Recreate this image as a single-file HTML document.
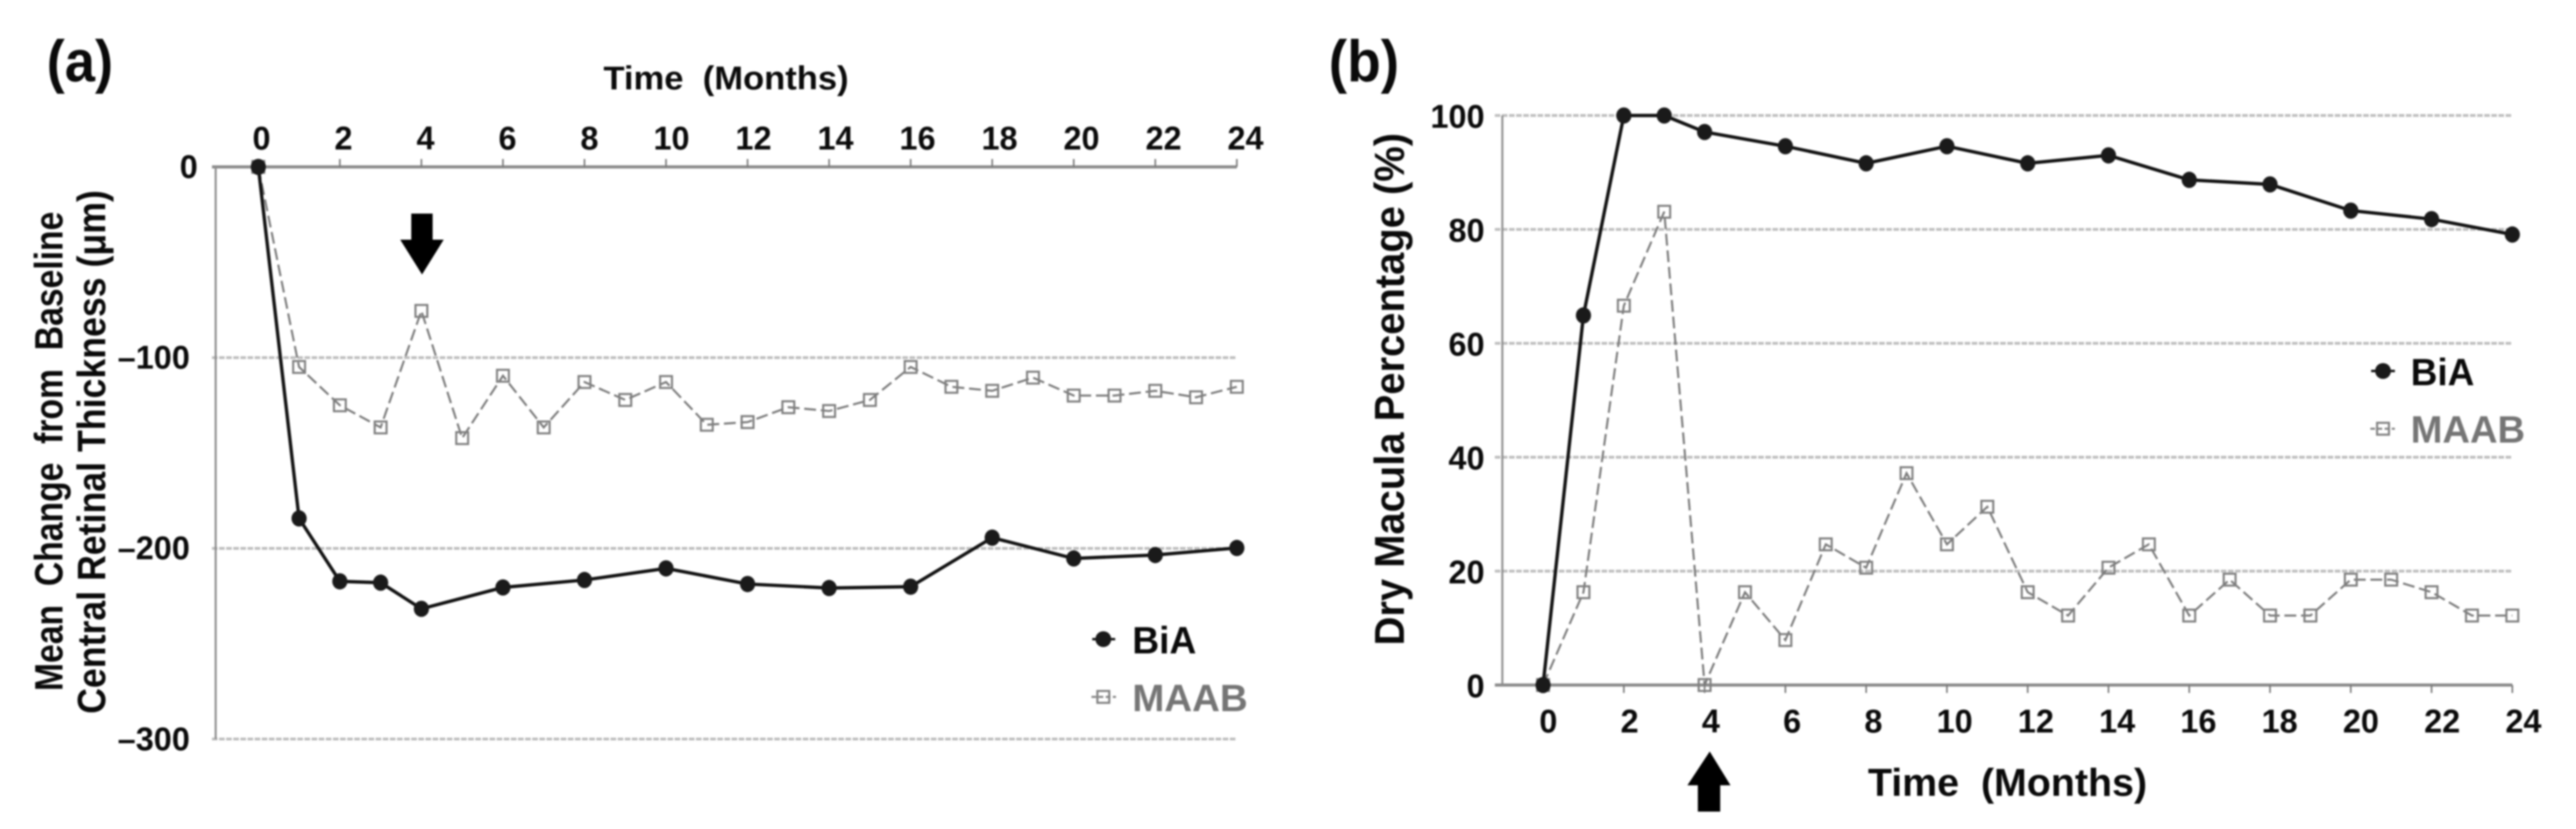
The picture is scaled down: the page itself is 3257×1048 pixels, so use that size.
<!DOCTYPE html>
<html lang="en">
<head>
<meta charset="utf-8">
<title>Mean retinal thickness change and dry macula percentage over time</title>
<style>
  html, body { margin: 0; padding: 0; background: #fff; }
  #figure { display: block; width: 3257px; height: 1048px; filter: blur(1px); }
  text { font-family: "Liberation Sans", "DejaVu Sans", sans-serif; font-weight: bold; fill: #0a0a0a; white-space: pre; }
</style>
</head>
<body>
<svg id="figure" xmlns="http://www.w3.org/2000/svg" width="3257" height="1048" viewBox="0 0 3257 1048">
  <rect x="0" y="0" width="3257" height="1048" fill="#fff"/>

  <g id="panel-a">
    <text x="59" y="103" font-size="74" textLength="84" lengthAdjust="spacingAndGlyphs">(a)</text>
    <text x="763" y="113" font-size="42" textLength="310" lengthAdjust="spacingAndGlyphs">Time  (Months)</text>
    <text transform="translate(79 873.6) rotate(-90)" font-size="50" textLength="606" lengthAdjust="spacingAndGlyphs">Mean  Change  from  Baseline</text>
    <text transform="translate(133 902.4) rotate(-90)" font-size="50" textLength="662" lengthAdjust="spacingAndGlyphs">Central Retinal Thickness (μm)</text>
    <polygon points="520,270 547,270 547,303 561,303 533.6,347 506,303 520,303" fill="#000"/>
    <g>
      <line x1="1381" y1="808" x2="1410" y2="808" stroke="#111" stroke-width="3"/>
      <ellipse cx="1395" cy="808" rx="10" ry="10" fill="#1a1a1a"/>
      <text x="1431.6" y="826" font-size="48" textLength="81" lengthAdjust="spacingAndGlyphs">BiA</text>
      <line x1="1380" y1="881" x2="1411" y2="881" stroke="#808080" stroke-width="2.5" stroke-dasharray="6 3"/>
      <rect x="1387.5" y="873.5" width="15" height="15" fill="none" stroke="#808080" stroke-width="2.6"/>
      <text x="1431.6" y="899" font-size="48" textLength="146" lengthAdjust="spacingAndGlyphs" style="fill:#757575">MAAB</text>
    </g>
  </g>

  <g id="panel-b">
    <text x="1680" y="103" font-size="74" textLength="89" lengthAdjust="spacingAndGlyphs">(b)</text>
    <text x="2361.7" y="1006" font-size="49" textLength="353" lengthAdjust="spacingAndGlyphs">Time  (Months)</text>
    <text transform="translate(1775 816) rotate(-90)" font-size="53" textLength="648" lengthAdjust="spacingAndGlyphs">Dry Macula Percentage (%)</text>
    <polygon points="2161.7,950 2188,992.7 2175,992.7 2175,1026 2146.7,1026 2146.7,992.7 2133.5,992.7" fill="#000"/>
    <g>
      <line x1="2998" y1="469" x2="3028" y2="469" stroke="#111" stroke-width="3"/>
      <ellipse cx="3013" cy="469" rx="10" ry="10" fill="#1a1a1a"/>
      <text x="3048" y="487" font-size="48" textLength="80.5" lengthAdjust="spacingAndGlyphs">BiA</text>
      <line x1="2997" y1="542" x2="3028" y2="542" stroke="#808080" stroke-width="2.5" stroke-dasharray="6 3"/>
      <rect x="3005.5" y="534.5" width="15" height="15" fill="none" stroke="#808080" stroke-width="2.6"/>
      <text x="3048" y="559.5" font-size="48" textLength="144.6" lengthAdjust="spacingAndGlyphs" style="fill:#757575">MAAB</text>
    </g>
  </g>
</svg>

<script>
// Shared month categories
const xTickLabels = [0, 2, 4, 6, 8, 10, 12, 14, 16, 18, 20, 22, 24];
const biaMonths = [0, 1, 2, 3, 4, 6, 8, 10, 12, 14, 16, 18, 20, 22, 24];
const maabMonths = [0, 1, 2, 3, 4, 5, 6, 7, 8, 9, 10, 11, 12, 13, 14, 15, 16, 17, 18, 19, 20, 21, 22, 23, 24];

// Panel (a): mean change from baseline central retinal thickness (um)
const panelAYTicks = [0, -100, -200, -300];
const panelABia = [0, -184.3, -217.3, -218, -231.7, -220.5, -216.6, -210.5, -218.7, -220.8, -220.1, -194.4, -205.3, -203.5, -199.8];
const panelAMaab = [0, -104.9, -125, -136.6, -75.5, -142.2, -109.5, -136.6, -112.8, -122.2, -112.8, -135.2, -133.8, -126, -128, -122.2, -104.9, -115.3, -117.4, -110.5, -119.9, -119.9, -117.4, -120.8, -115.3];

// Panel (b): dry macula percentage (%)
const panelBYTicks = [100, 80, 60, 40, 20, 0];
const panelBBia = [0, 64.9, 100, 100, 97.1, 94.6, 91.6, 94.6, 91.6, 93, 88.7, 87.9, 83.3, 81.8, 79.1];
const panelBMaab = [0, 16.3, 66.6, 83.1, 0, 16.3, 7.9, 24.7, 20.6, 37.2, 24.7, 31.3, 16.3, 12.2, 20.6, 24.7, 12.2, 18.5, 12.2, 12.2, 18.5, 18.5, 16.3, 12.2, 12.2];

const SVG_NS = 'http://www.w3.org/2000/svg';

function add(parent, tag, attrs, text) {
  const node = document.createElementNS(SVG_NS, tag);
  Object.keys(attrs).forEach(function (k) { node.setAttribute(k, attrs[k]); });
  if (text !== undefined) node.textContent = text;
  parent.appendChild(node);
  return node;
}

function linear(d0, d1, r0, r1) {
  return function (v) { return r0 + (v - d0) / (d1 - d0) * (r1 - r0); };
}

function drawPanel(p) {
  const root = document.getElementById(p.id);
  const xScale = linear(0, 24, p.x0, p.x24);
  const yScale = linear(p.domainA, p.domainB, p.yA, p.yB);
  const xLabelScale = linear(0, 24, p.x0 + p.labelOffset0, p.x24 + p.labelOffset24);

  // Gridlines and y tick labels
  p.yTicks.forEach(function (v) {
    const y = yScale(v);
    if (v !== p.baseline) {
      const grid = add(root, 'line', { x1: p.gridLeft, y1: y, x2: p.x24, y2: y, stroke: '#bdbdbd', 'stroke-width': 3.5, 'stroke-dasharray': '7 2' });
      
      
    }
    const s = String(v).replace('-', '\u2013');
    const label = add(root, 'text', {
      x: p.yLabelEnd(v), y: y + p.yLabelDrop, 'font-size': 42, 'text-anchor': 'end',
      textLength: s.length * 22.8, lengthAdjust: 'spacingAndGlyphs'
    }, s);
    
    
  });

  // Axis lines
  const yBase = yScale(p.baseline);
  const xAxis = add(root, 'line', { x1: p.gridLeft, y1: yBase, x2: p.x24, y2: yBase, stroke: '#8c8c8c', 'stroke-width': 4 });
  
  
  const yAxis = add(root, 'line', { x1: p.yAxisX, y1: yScale(p.yAxisFrom), x2: p.yAxisX, y2: yScale(p.yAxisTo), stroke: '#8c8c8c', 'stroke-width': 2.5 });
  
  

  // X ticks and labels
  xTickLabels.forEach(function (v) {
    const x = xScale(v);
    const tick = add(root, 'line', { x1: x, y1: yBase, x2: x, y2: yBase + p.tickLength, stroke: '#777', 'stroke-width': 2 });
    
    
    const s = String(v);
    const label = add(root, 'text', {
      x: xLabelScale(v), y: p.xLabelBaseline, 'font-size': 42, 'text-anchor': 'middle',
      textLength: s.length * 22.8, lengthAdjust: 'spacingAndGlyphs'
    }, s);
    
    
  });

  // MAAB series
  const maabPts = maabMonths.map(function (m, i) { return xScale(m) + ',' + yScale(p.maab[i]); }).join(' ');
  const maabLine = add(root, 'polyline', { points: maabPts, fill: 'none', stroke: '#7a7a7a', 'stroke-width': 2.6, 'stroke-dasharray': '15 6' });
  
  
  maabMonths.forEach(function (m, i) {
    const mark = add(root, 'rect', { x: xScale(m) - 7.5, y: yScale(p.maab[i]) - 7.5, width: 15, height: 15, fill: 'none', stroke: '#7f7f7f', 'stroke-width': 2.6 });
    
    
  });

  // BiA series
  const biaPts = biaMonths.map(function (m, i) { return xScale(m) + ',' + yScale(p.bia[i]); }).join(' ');
  const biaLine = add(root, 'polyline', { points: biaPts, fill: 'none', stroke: '#111', 'stroke-width': 4.2 });
  
  
  biaMonths.forEach(function (m, i) {
    const mark = add(root, 'ellipse', { cx: xScale(m), cy: yScale(p.bia[i]), rx: 9.6, ry: 10.3, fill: '#1a1a1a' });
    
    
  });
}

drawPanel({
  id: 'panel-a', x0: 326.6, x24: 1563.8, domainA: 0, domainB: -300, yA: 211, yB: 934.3,
  baseline: 0, yTicks: panelAYTicks, gridLeft: 268, yAxisX: 272.7, yAxisFrom: 0, yAxisTo: -300,
  tickLength: -10, xLabelBaseline: 189, labelOffset0: 4, labelOffset24: 11, yLabelDrop: 14,
  yLabelEnd: function (v) { return v === 0 ? 250 : 240; },
  bia: panelABia, maab: panelAMaab
});

drawPanel({
  id: 'panel-b', x0: 1951, x24: 3176.5, domainA: 0, domainB: 100, yA: 866, yB: 146,
  baseline: 0, yTicks: panelBYTicks, gridLeft: 1890, yAxisX: 1899.5, yAxisFrom: 0, yAxisTo: 100,
  tickLength: 10, xLabelBaseline: 926, labelOffset0: 6.7, labelOffset24: 14, yLabelDrop: 15.5,
  yLabelEnd: function () { return 1877; },
  bia: panelBBia, maab: panelBMaab
});
</script>
</body>
</html>
